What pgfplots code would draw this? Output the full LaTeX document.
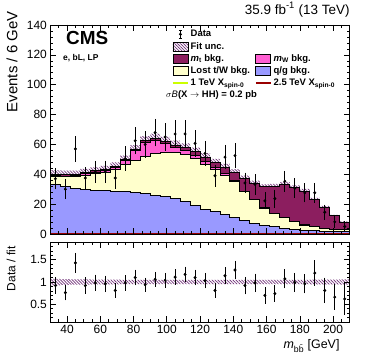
\documentclass[border=0pt]{standalone}
\usepackage{fontspec}
\setmainfont{Liberation Sans}
\usepackage{pgfplots}
\pgfplotsset{compat=1.18}
\usepackage{pgfplotstable}
\usepgfplotslibrary{fillbetween}
\usetikzlibrary{patterns.meta}

\definecolor{cqg}{RGB}{153,153,255}
\definecolor{clost}{RGB}{255,255,204}
\definecolor{cmw}{RGB}{255,95,210}
\definecolor{cmt}{RGB}{140,30,95}
\definecolor{csiga}{RGB}{204,255,0}
\definecolor{csigb}{RGB}{153,0,0}
\definecolor{cunc}{RGB}{112,48,120}

% cumulative stack levels per 6 GeV bin (left edge), fit band, signals,
% fit band in the ratio (rlo, rhi)
\pgfplotstableread{
x   qg   lost mw   tot  lo   hi   sa  sb  rlo   rhi
30  33.3 38.5 39.0 40.0 37.2 42.8 0.2 0.6 0.925 1.070
36  31.8 38.3 38.8 39.8 37.2 42.4 0.2 0.6 0.935 1.065
42  30.6 38.4 39.0 40.0 37.6 42.4 0.2 0.6 0.940 1.060
48  30.0 39.5 40.3 41.3 38.9 43.7 0.2 0.6 0.942 1.058
54  29.4 40.3 41.2 42.2 39.8 44.6 0.2 0.6 0.944 1.056
60  29.0 41.2 42.2 43.2 40.8 45.6 0.2 0.6 0.946 1.054
66  28.6 43.2 44.5 45.5 43.1 47.9 0.2 0.6 0.948 1.052
72  28.2 46.5 49.0 50.0 47.5 52.5 0.2 0.6 0.950 1.050
78  27.8 49.0 55.8 56.8 54.0 59.6 0.2 0.6 0.950 1.050
84  27.0 52.0 61.5 62.5 59.4 65.6 0.2 0.6 0.950 1.050
90  26.0 53.8 62.8 64.0 60.8 67.2 0.2 0.6 0.950 1.050
96  24.8 54.5 60.8 62.0 58.9 65.1 0.2 0.6 0.952 1.048
102 23.9 54.5 58.2 59.6 56.6 62.6 0.2 0.6 0.952 1.048
108 22.0 53.0 56.0 57.8 54.9 60.7 0.2 0.6 0.952 1.048
114 19.3 50.7 52.7 55.0 52.2 57.8 0.2 0.6 0.952 1.048
120 16.5 46.8 48.6 51.5 48.9 54.1 0.2 0.6 0.952 1.048
126 15.0 43.0 44.3 48.0 45.6 50.4 0.2 0.6 0.952 1.048
132 13.0 39.5 40.3 44.8 42.6 47.0 0.2 0.6 0.952 1.048
138 11.3 35.0 35.6 41.3 39.2 43.4 0.2 0.6 0.952 1.048
144 9.0  28.3 28.8 37.2 35.3 39.1 0.2 0.6 0.952 1.048
150 7.0  22.8 23.2 34.0 32.3 35.7 0.2 0.6 0.952 1.048
156 5.8  17.2 17.5 31.7 30.1 33.3 0.2 0.6 0.952 1.048
162 4.9  13.5 13.8 32.0 30.4 33.6 0.2 0.6 0.952 1.048
168 3.8  11.0 11.3 33.0 31.3 34.7 0.2 0.6 0.950 1.050
174 2.9  8.5  8.7  31.0 29.4 32.6 0.2 0.6 0.950 1.050
180 2.5  6.0  6.2  28.8 27.4 30.2 0.2 0.6 0.950 1.050
186 2.1  4.9  5.1  23.0 21.8 24.2 0.2 0.6 0.948 1.052
192 1.9  3.8  4.0  18.0 17.1 18.9 0.2 0.6 0.946 1.054
198 1.6  3.1  3.2  12.2 11.6 12.8 0.2 0.6 0.944 1.056
204 1.4  2.7  2.8  8.0  7.6  8.4  0.2 0.6 0.942 1.058
210 1.4  2.7  2.8  8.0  7.6  8.4  0.2 0.6 0.942 1.058
}\bkg

% data (bin centre), error, ratio to fit, ratio error
\pgfplotstableread{
x   y    ey  r    er
33  37.0 6.1 0.92 0.15
39  30.0 5.5 0.76 0.14
45  57.0 7.5 1.43 0.19
51  37.5 6.1 0.92 0.15
57  41.5 6.4 0.98 0.15
63  41.6 6.4 0.96 0.15
69  37.5 6.1 0.81 0.13
75  50.5 7.1 0.98 0.14
81  62.5 7.9 1.10 0.14
87  60.0 7.7 0.94 0.12
93  67.9 8.2 1.06 0.13
99  65.0 8.1 1.04 0.13
105 67.0 8.2 1.11 0.14
111 67.0 8.2 1.17 0.14
117 60.7 7.8 1.10 0.14
123 54.0 7.3 1.03 0.14
129 39.0 6.2 0.81 0.13
135 51.5 7.2 1.14 0.16
141 52.5 7.2 1.27 0.17
147 34.2 5.8 0.92 0.16
153 33.3 5.8 0.98 0.17
159 22.2 4.7 0.70 0.15
165 23.7 4.9 0.74 0.15
171 35.3 5.9 1.07 0.18
177 30.7 5.5 0.99 0.18
183 27.6 5.3 0.96 0.18
189 27.6 5.5 1.20 0.25
195 14.6 4.0 0.81 0.25
201 8.1  3.0 0.66 0.25
207 5.0  2.5 0.62 0.32
}\data

\pgfplotsset{
  cmsaxis/.style={
    scale only axis, width=299.3bp,
    xmin=30, xmax=210,
    xtick={40,60,...,200}, minor xtick={30,35,...,210},
    tick align=inside,
    major tick length=6bp, minor tick length=3bp,
    axis line style={line width=0.8bp},
    every tick/.style={black, line width=0.6bp},
    tick label style={font=\fontsize{12}{14}\selectfont},
    /pgf/number format/assume math mode=true,
    axis on top,
  },
  stk/.style={const plot, draw=black, line width=1bp, forget plot},
  unc/.style={pattern={Lines[angle=-45,distance=2.1bp,line width=0.7bp]}, pattern color=cunc, draw=none, forget plot},
  dat/.style={only marks, mark=*, mark size=1.3bp, black, forget plot,
    error bars/.cd, y dir=both, y explicit,
    error bar style={line width=0.8bp, black},
    error mark options={mark size=1.6bp, line width=0.8bp, black}},
}

\begin{document}
\begin{tikzpicture}

% upper panel
\begin{axis}[cmsaxis,
  at={(50.4bp,125bp)}, anchor=south west, height=209bp,
  ymin=0, ymax=140, ytick={0,20,...,140}, minor ytick={0,4,...,140},
  xticklabels=\empty,
  ylabel={Events / 6 GeV},
  ylabel style={font=\fontsize{15}{17}\selectfont, at={(axis description cs:-0.128,1.081)}, anchor=east},
  title={35.9 fb\textsuperscript{-1} (13 TeV)},
  title style={font=\fontsize{13.5}{15}\selectfont, at={(axis description cs:1,1.0239)}, anchor=base east, inner sep=0pt},
  legend columns=2, legend cell align=left,
  legend style={draw=none, fill=none, inner sep=0pt,
    at={(axis description cs:0.4063,0.9856)}, anchor=north west,
    font=\bfseries\fontsize{9.5}{11}\selectfont,
    nodes={inner xsep=2bp, inner ysep=1.6bp, text height=7bp, text depth=2bp},
    /tikz/every even column/.append style={column sep=3bp}},
]
\addplot[stk, fill=cmt] table[x=x,y=tot]{\bkg} \closedcycle;
\addplot[stk, fill=cmw] table[x=x,y=mw]{\bkg} \closedcycle;
\addplot[stk, fill=clost] table[x=x,y=lost]{\bkg} \closedcycle;
\addplot[stk, fill=cqg] table[x=x,y=qg]{\bkg} \closedcycle;
\addplot[const plot, csiga, line width=1bp, forget plot] table[x=x,y=sa]{\bkg};
\addplot[const plot, csigb, line width=1bp, forget plot] table[x=x,y=sb]{\bkg};

\addplot[name path=uh, const plot, draw=none, forget plot] table[x=x,y=hi]{\bkg};
\addplot[name path=ul, const plot, draw=none, forget plot] table[x=x,y=lo]{\bkg};
\addplot[unc] fill between[of=uh and ul];

\addplot[dat] table[x=x,y=y,y error=ey]{\data};

\addlegendimage{legend image code/.code={
  \draw[black,line width=0.8bp] (7.5bp,-4bp)--(7.5bp,4bp) (6bp,-4bp)--(9bp,-4bp) (6bp,4bp)--(9bp,4bp);
  \fill[black] (7.5bp,0bp) circle (1.3bp);}}
\addlegendentry{Data}
\addlegendimage{empty legend}
\addlegendentry{}
\addlegendimage{legend image code/.code={
  \fill[pattern={Lines[angle=-45,distance=2.1bp,line width=0.7bp]}, pattern color=cunc] (0bp,-4.5bp) rectangle (15bp,4.5bp);}}
\addlegendentry{Fit unc.}
\addlegendimage{empty legend}
\addlegendentry{}
\addlegendimage{legend image code/.code={\draw[black,line width=0.8bp,fill=cmt] (0bp,-4.5bp) rectangle (15bp,4.5bp);}}
\addlegendentry{\textit{m}\textsubscript{t} bkg.}
\addlegendimage{legend image code/.code={\draw[black,line width=0.8bp,fill=cmw] (0bp,-4.5bp) rectangle (15bp,4.5bp);}}
\addlegendentry{\textit{m}\textsubscript{W} bkg.}
\addlegendimage{legend image code/.code={\draw[black,line width=0.8bp,fill=clost] (0bp,-4.5bp) rectangle (15bp,4.5bp);}}
\addlegendentry{Lost t/W bkg.}
\addlegendimage{legend image code/.code={\draw[black,line width=0.8bp,fill=cqg] (0bp,-4.5bp) rectangle (15bp,4.5bp);}}
\addlegendentry{q/g bkg.}
\addlegendimage{legend image code/.code={\draw[csiga,line width=1.5bp] (0bp,0bp)--(15bp,0bp);}}
\addlegendentry{1 TeV X\textsubscript{spin-0}}
\addlegendimage{legend image code/.code={\draw[csigb,line width=1.5bp] (0bp,0bp)--(15bp,0bp);}}
\addlegendentry{2.5 TeV X\textsubscript{spin-0}}

\node[anchor=base west, font=\bfseries\fontsize{19}{21}\selectfont, inner sep=0pt] at (axis description cs:0.052,0.9043) {CMS};
\node[anchor=base west, font=\bfseries\fontsize{8.5}{10}\selectfont, inner sep=0pt] at (axis description cs:0.0421,0.8325) {e, bL, LP};
\node[anchor=base west, font=\bfseries\fontsize{9.5}{11}\selectfont, inner sep=0pt] at (axis description cs:0.386,0.6531) {$\sigma\mathit{B}$(X $\rightarrow$ HH) = 0.2 pb};
\end{axis}

% ratio panel
\begin{axis}[cmsaxis,
  at={(50.4bp,37bp)}, anchor=south west, height=80bp,
  ymin=0.1, ymax=1.9, ytick={0.5,1,1.5}, minor ytick={0.1,0.2,...,1.9},
  ylabel={Data / fit},
  ylabel style={font=\fontsize{12}{14}\selectfont, at={(axis description cs:-0.1316,0.9875)}, anchor=east},
  xlabel={\textit{m}\textsubscript{b\={b}} [GeV]},
  xlabel style={font=\fontsize{12.5}{14}\selectfont, at={(axis description cs:0.9776,-0.3375)}, anchor=base east},
]
\addplot[name path=rh, const plot, draw=none, forget plot] table[x=x,y=rhi]{\bkg};
\addplot[name path=rl, const plot, draw=none, forget plot] table[x=x,y=rlo]{\bkg};
\addplot[unc] fill between[of=rh and rl];
\addplot[dat] table[x=x,y=r,y error=er]{\data};
\end{axis}

% page frame of the reference size
\path (0,0) rectangle (374bp,359bp);
\end{tikzpicture}
\end{document}
